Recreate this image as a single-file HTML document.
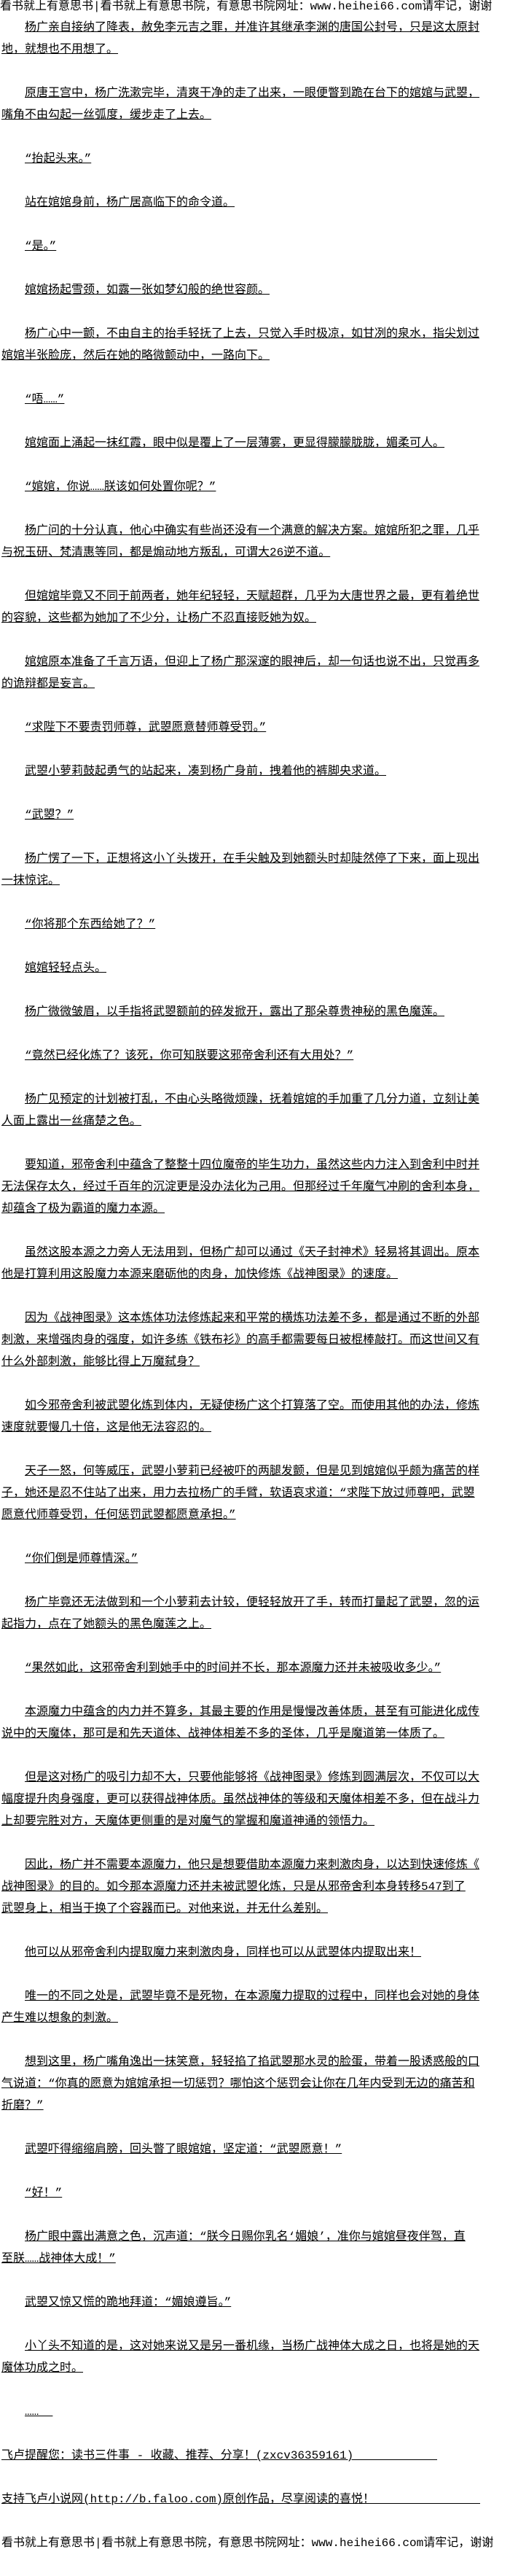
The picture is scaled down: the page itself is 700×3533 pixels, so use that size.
<!DOCTYPE html>
<html><head><meta charset="utf-8">
<style>
html,body{margin:0;padding:0;background:#fff;}
body{width:700px;height:3500px;overflow:hidden;position:relative;color:#000;
font-family:"Liberation Mono","Noto Sans CJK SC",monospace;font-size:16px;}
.hd{position:absolute;left:0;top:0;line-height:18px;white-space:nowrap;}
.main{position:absolute;left:2px;top:23px;}
p{margin:0 0 30px 0;line-height:30px;white-space:nowrap;text-indent:32px;}
p span{text-decoration:underline;}
p.ni{text-indent:0;}
.tail{display:inline-block;border-bottom:1px solid #000;height:20px;vertical-align:top;}
</style></head><body>
<div class="hd">看书就上有意思书|看书就上有意思书院，有意思书院网址：www.heihei66.com请牢记，谢谢</div>
<div class="main">
<p><span>杨广亲自接纳了降表，赦免李元吉之罪，并准许其继承李渊的唐国公封号，只是这太原封<br>地，就想也不用想了。</span></p>
<p><span>原唐王宫中，杨广洗漱完毕，清爽干净的走了出来，一眼便瞥到跪在台下的婠婠与武曌，<br>嘴角不由勾起一丝弧度，缓步走了上去。</span></p>
<p><span>“抬起头来。”</span></p>
<p><span>站在婠婠身前，杨广居高临下的命令道。</span></p>
<p><span>“是。”</span></p>
<p><span>婠婠扬起雪颈，如露一张如梦幻般的绝世容颜。</span></p>
<p><span>杨广心中一颤，不由自主的抬手轻抚了上去，只觉入手时极凉，如甘冽的泉水，指尖划过<br>婠婠半张脸庞，然后在她的略微颤动中，一路向下。</span></p>
<p><span>“唔……”</span></p>
<p><span>婠婠面上涌起一抹红霞，眼中似是覆上了一层薄雾，更显得朦朦胧胧，媚柔可人。</span></p>
<p><span>“婠婠，你说……朕该如何处置你呢？”</span></p>
<p><span>杨广问的十分认真，他心中确实有些尚还没有一个满意的解决方案。婠婠所犯之罪，几乎<br>与祝玉研、梵清惠等同，都是煽动地方叛乱，可谓大26逆不道。</span></p>
<p><span>但婠婠毕竟又不同于前两者，她年纪轻轻，天赋超群，几乎为大唐世界之最，更有着绝世<br>的容貌，这些都为她加了不少分，让杨广不忍直接贬她为奴。</span></p>
<p><span>婠婠原本准备了千言万语，但迎上了杨广那深邃的眼神后，却一句话也说不出，只觉再多<br>的诡辩都是妄言。</span></p>
<p><span>“求陛下不要责罚师尊，武曌愿意替师尊受罚。”</span></p>
<p><span>武曌小萝莉鼓起勇气的站起来，凑到杨广身前，拽着他的裤脚央求道。</span></p>
<p><span>“武曌？”</span></p>
<p><span>杨广愣了一下，正想将这小丫头拨开，在手尖触及到她额头时却陡然停了下来，面上现出<br>一抹惊诧。</span></p>
<p><span>“你将那个东西给她了？”</span></p>
<p><span>婠婠轻轻点头。</span></p>
<p><span>杨广微微皱眉，以手指将武曌额前的碎发掀开，露出了那朵尊贵神秘的黑色魔莲。</span></p>
<p><span>“竟然已经化炼了？该死，你可知朕要这邪帝舍利还有大用处？”</span></p>
<p><span>杨广见预定的计划被打乱，不由心头略微烦躁，抚着婠婠的手加重了几分力道，立刻让美<br>人面上露出一丝痛楚之色。</span></p>
<p><span>要知道，邪帝舍利中蕴含了整整十四位魔帝的毕生功力，虽然这些内力注入到舍利中时并<br>无法保存太久，经过千百年的沉淀更是没办法化为己用。但那经过千年魔气冲刷的舍利本身，<br>却蕴含了极为霸道的魔力本源。</span></p>
<p><span>虽然这股本源之力旁人无法用到，但杨广却可以通过《天子封神术》轻易将其调出。原本<br>他是打算利用这股魔力本源来磨砺他的肉身，加快修炼《战神图录》的速度。</span></p>
<p><span>因为《战神图录》这本炼体功法修炼起来和平常的横炼功法差不多，都是通过不断的外部<br>刺激，来增强肉身的强度，如许多练《铁布衫》的高手都需要每日被棍棒敲打。而这世间又有<br>什么外部刺激，能够比得上万魔弑身？</span></p>
<p><span>如今邪帝舍利被武曌化炼到体内，无疑使杨广这个打算落了空。而使用其他的办法，修炼<br>速度就要慢几十倍，这是他无法容忍的。</span></p>
<p><span>天子一怒，何等威压，武曌小萝莉已经被吓的两腿发颤，但是见到婠婠似乎颇为痛苦的样<br>子，她还是忍不住站了出来，用力去拉杨广的手臂，软语哀求道：“求陛下放过师尊吧，武曌<br>愿意代师尊受罚，任何惩罚武曌都愿意承担。”</span></p>
<p><span>“你们倒是师尊情深。”</span></p>
<p><span>杨广毕竟还无法做到和一个小萝莉去计较，便轻轻放开了手，转而打量起了武曌，忽的运<br>起指力，点在了她额头的黑色魔莲之上。</span></p>
<p><span>“果然如此，这邪帝舍利到她手中的时间并不长，那本源魔力还并未被吸收多少。”</span></p>
<p><span>本源魔力中蕴含的内力并不算多，其最主要的作用是慢慢改善体质，甚至有可能进化成传<br>说中的天魔体，那可是和先天道体、战神体相差不多的圣体，几乎是魔道第一体质了。</span></p>
<p><span>但是这对杨广的吸引力却不大，只要他能够将《战神图录》修炼到圆满层次，不仅可以大<br>幅度提升肉身强度，更可以获得战神体质。虽然战神体的等级和天魔体相差不多，但在战斗力<br>上却要完胜对方，天魔体更侧重的是对魔气的掌握和魔道神通的领悟力。</span></p>
<p><span>因此，杨广并不需要本源魔力，他只是想要借助本源魔力来刺激肉身，以达到快速修炼《<br>战神图录》的目的。如今那本源魔力还并未被武曌化炼，只是从邪帝舍利本身转移547到了<br>武曌身上，相当于换了个容器而已。对他来说，并无什么差别。</span></p>
<p><span>他可以从邪帝舍利内提取魔力来刺激肉身，同样也可以从武曌体内提取出来！</span></p>
<p><span>唯一的不同之处是，武曌毕竟不是死物，在本源魔力提取的过程中，同样也会对她的身体<br>产生难以想象的刺激。</span></p>
<p><span>想到这里，杨广嘴角逸出一抹笑意，轻轻掐了掐武曌那水灵的脸蛋，带着一股诱惑般的口<br>气说道：“你真的愿意为婠婠承担一切惩罚？哪怕这个惩罚会让你在几年内受到无边的痛苦和<br>折磨？”</span></p>
<p><span>武曌吓得缩缩肩膀，回头瞥了眼婠婠，坚定道：“武曌愿意！”</span></p>
<p><span>“好！”</span></p>
<p><span>杨广眼中露出满意之色，沉声道：“朕今日赐你乳名‘媚娘’，准你与婠婠昼夜伴驾，直<br>至朕……战神体大成！”</span></p>
<p><span>武曌又惊又慌的跪地拜道：“媚娘遵旨。”</span></p>
<p><span>小丫头不知道的是，这对她来说又是另一番机缘，当杨广战神体大成之日，也将是她的天<br>魔体功成之时。</span></p>
<p><span>……&nbsp;&nbsp;</span></p>
<p class="ni"><span>飞卢提醒您：读书三件事 - 收藏、推荐、分享！(zxcv36359161)</span><i class="tail" style="width:115px"></i></p>
<p class="ni"><span>支持飞卢小说网(http://b.faloo.com)原创作品，尽享阅读的喜悦！</span><i class="tail" style="width:145px"></i></p>
<p class="ni" style="text-decoration:none">看书就上有意思书|看书就上有意思书院，有意思书院网址：www.heihei66.com请牢记，谢谢</p>
</div>
</body></html>
